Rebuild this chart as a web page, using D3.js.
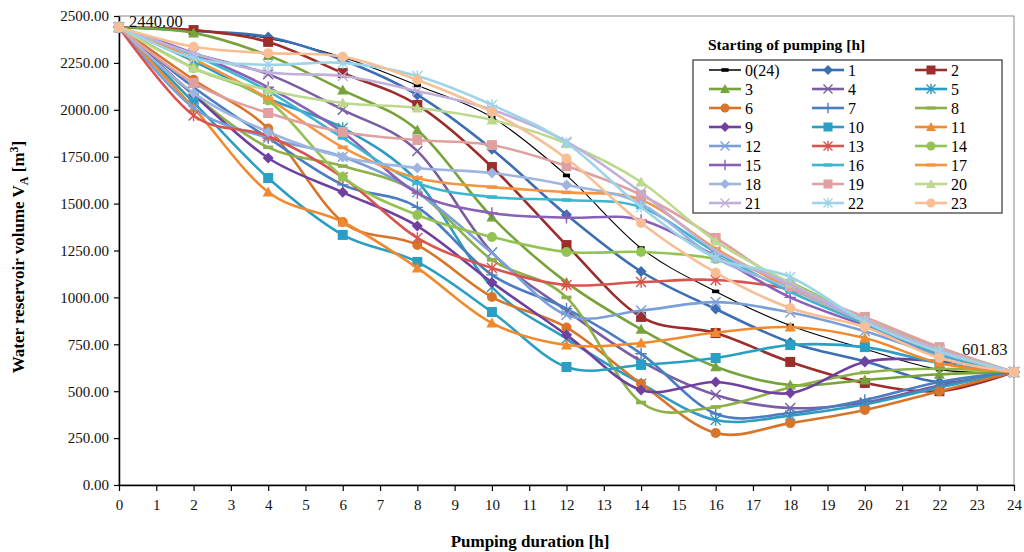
<!DOCTYPE html>
<html><head><meta charset="utf-8">
<script src="https://cdn.jsdelivr.net/npm/d3@7"></script>
<style>body{margin:0;background:#fff} text{font-family:"Liberation Serif","Times New Roman",serif}</style>
</head><body><svg id="c" width="1024" height="552"></svg>
<script>
const hours = [0,2,4,6,8,10,12,14,16,18,20,22,24];
const seriesNames = ["0(24)","1","2","3","4","5","6","7","8","9","10","11","12","13","14","15","16","17","18","19","20","21","22","23"];
const v0  = [2440,2425,2380,2280,2130,1960,1650,1263,1032,850,725,615,601.83];
const v1  = [2440,2420,2388,2265,2079,1790,1440,1138,938,760,660,549,601.83];
const v2  = [2440,2425,2362,2196,2026,1695,1279,896,810,656,544,500,601.83];
const v3  = [2440,2410,2290,2105,1892,1429,1080,830,630,533,560,590,601.83];
const v4  = [2440,2300,2190,2000,1780,1240,930,660,480,410,440,530,601.83];
const v5  = [2440,2260,2060,1903,1620,1055,780,540,346,370,430,520,601.83];
const v6  = [2440,2160,1900,1402,1279,1002,840,540,277,330,400,500,601.83];
const v7  = [2440,2120,1850,1600,1480,1120,940,700,380,384,453,549,601.83];
const v8  = [2440,2080,1800,1700,1560,1200,1000,440,416,520,600,620,601.83];
const v9  = [2440,2080,1743,1560,1380,1080,800,506,549,490,656,660,601.83];
const v10 = [2440,2040,1636,1333,1189,922,629,640,677,746,735,650,601.83];
const v11 = [2440,2010,1562,1402,1157,863,746,757,813,842,783,650,601.83];
const v12 = [2440,2010,1850,1750,1560,1237,906,930,975,920,820,690,601.83];
const v13 = [2440,1970,1860,1640,1317,1157,1066,1082,1093,1040,880,720,601.83];
const v14 = [2440,2223,2050,1642,1439,1322,1242,1242,1205,1080,880,730,601.83];
const v15 = [2440,2300,2120,1880,1556,1450,1425,1413,1220,1000,850,700,601.83];
const v16 = [2440,2290,2100,1850,1610,1535,1519,1480,1240,1030,860,700,601.83];
const v17 = [2440,2270,2060,1800,1636,1588,1560,1520,1260,1050,870,710,601.83];
const v18 = [2440,2089,1882,1748,1690,1663,1599,1500,1210,1050,870,720,601.83];
const v19 = [2440,2143,1983,1882,1839,1812,1700,1546,1317,1060,896,735,601.83];
const v20 = [2440,2223,2105,2036,2010,1946,1820,1615,1300,1077,880,720,601.83];
const v21 = [2440,2300,2200,2180,2100,2000,1830,1560,1250,1070,880,720,601.83];
const v22 = [2440,2275,2240,2250,2180,2026,1823,1482,1210,1109,870,710,601.83];
const v23 = [2440,2336,2302,2283,2159,1988,1740,1397,1132,943,842,677,601.83];
const yTicks = [0,250,500,750,1000,1250,1500,1750,2000,2250,2500];
const xTicks = [0,1,2,3,4,5,6,7,8,9,10,11,12,13,14,15,16,17,18,19,20,21,22,23,24];
const startLabel = "2440.00", endLabel = "601.83";

const seriesValues = [v0,v1,v2,v3,v4,v5,v6,v7,v8,v9,v10,v11,v12,v13,v14,v15,v16,v17,v18,v19,v20,v21,v22,v23];
const seriesColors = ["#000000","#3C6EB4","#9B2D2A","#77A33B","#7B5DA3","#2E9BC0","#D9752B","#4A7EC0","#8DB04A","#7040A0","#2A9FC4","#F08A2E",
  "#7BA0D8","#D9534F","#92C353","#8A5FB8","#3EB5D0","#F5953F","#9DB5E0","#E0A0A0","#BCD98E","#C0B0DA","#9ED4E8","#F8BF94"];
const seriesMarkers = ["bar","diamond","square","triangle","x","star","circle","plus","dash","diamond","square","triangle",
  "x","star","circle","plus","dash","dash","diamond","square","triangle","x","star","circle"];

const svg = d3.select("#c");
const x = d3.scaleLinear().domain([0,24]).range([119,1014]);
const y = d3.scaleLinear().domain([0,2500]).range([485,16]);

svg.append("rect").attr("x",119).attr("y",16).attr("width",895).attr("height",469)
  .attr("fill","none").attr("stroke","#888").attr("stroke-width",1);

const ya = svg.append("g").attr("transform","translate(119,0)")
  .call(d3.axisLeft(y).tickValues(yTicks).tickFormat(d3.format(".2f")).tickSize(5).tickSizeOuter(0).tickPadding(5));
const xa = svg.append("g").attr("transform","translate(0,485)")
  .call(d3.axisBottom(x).tickValues(xTicks).tickFormat(d3.format("d")).tickSize(6).tickSizeOuter(0).tickPadding(8));
[ya,xa].forEach(a=>{
  a.selectAll("path").attr("stroke","#000").attr("stroke-width",1.5);
  a.selectAll("line").attr("stroke","#000").attr("stroke-width",1.2);
  a.selectAll("text").attr("font-family","Liberation Serif, serif").attr("font-size",15).attr("fill","#111");
});

function marker(g, type, cx, cy, color, s){
  s = s||1;
  if(type==="diamond") g.append("path").attr("d",`M${cx},${cy-5.5*s}L${cx+5.5*s},${cy}L${cx},${cy+5.5*s}L${cx-5.5*s},${cy}Z`).attr("fill",color);
  else if(type==="square") g.append("rect").attr("x",cx-5*s).attr("y",cy-5*s).attr("width",10*s).attr("height",10*s).attr("fill",color);
  else if(type==="triangle") g.append("path").attr("d",`M${cx},${cy-5.5*s}L${cx+5.5*s},${cy+4.5*s}L${cx-5.5*s},${cy+4.5*s}Z`).attr("fill",color);
  else if(type==="circle") g.append("circle").attr("cx",cx).attr("cy",cy).attr("r",5*s).attr("fill",color);
  else if(type==="x"||type==="star"||type==="plus"){
    const d=5*s; let p="";
    if(type!=="plus") p+=`M${cx-d},${cy-d}L${cx+d},${cy+d}M${cx-d},${cy+d}L${cx+d},${cy-d}`;
    if(type!=="x") p+=`M${cx},${cy-d*1.15}L${cx},${cy+d*1.15}`;
    if(type==="plus") p+=`M${cx-d*1.15},${cy}L${cx+d*1.15},${cy}`;
    g.append("path").attr("d",p).attr("stroke",color).attr("stroke-width",1.4).attr("fill","none");
  }
  else if(type==="dash") g.append("rect").attr("x",cx-5*s).attr("y",cy-1.8*s).attr("width",10*s).attr("height",3.6*s).attr("fill",color);
  else if(type==="bar") g.append("rect").attr("x",cx-4*s).attr("y",cy-2*s).attr("width",8*s).attr("height",4*s).attr("fill",color);
}

const line = d3.line().x((d,i)=>x(hours[i])).y(d=>y(d)).curve(d3.curveCardinal.tension(0));
const plot = svg.append("g");
seriesValues.forEach((vals,k)=>{
  const g = plot.append("g");
  g.append("path").attr("d",line(vals)).attr("fill","none").attr("stroke",seriesColors[k])
    .attr("stroke-width",k===0?1.1:2.6).attr("stroke-linejoin","round");
  vals.forEach((v,i)=>marker(g,seriesMarkers[k],x(hours[i]),y(v),seriesColors[k],k===0?0.9:1));
});

svg.append("text").attr("x",129).attr("y",27).attr("font-size",16.5).attr("fill","#111").text(startLabel);
svg.append("text").attr("x",962).attr("y",355).attr("font-size",16.5).attr("fill","#111").text(endLabel);

svg.append("text").attr("x",530).attr("y",547).attr("text-anchor","middle").attr("font-weight","bold")
  .attr("font-size",17).text("Pumping duration [h]");
const yt = svg.append("text").attr("transform","translate(24,257) rotate(-90)").attr("text-anchor","middle")
  .attr("font-weight","bold").attr("font-size",17);
yt.append("tspan").text("Water reservoir volume V");
yt.append("tspan").attr("font-size",12).attr("dy",4).text("A");
yt.append("tspan").attr("dy",-4).text(" [m");
yt.append("tspan").attr("font-size",12).attr("dy",-6).text("3");
yt.append("tspan").attr("dy",6).text("]");

svg.append("text").attr("x",708).attr("y",50).attr("font-weight","bold").attr("font-size",15.5).text("Starting of pumping  [h]");
svg.append("rect").attr("x",693).attr("y",60).attr("width",309).attr("height",153).attr("fill","#fff").attr("stroke","#333").attr("stroke-width",1.2);
seriesNames.forEach((n,k)=>{
  const col=k%3, row=Math.floor(k/3);
  const lx=709+col*103, ly=70+row*19;
  const g=svg.append("g");
  g.append("line").attr("x1",lx).attr("x2",lx+32).attr("y1",ly).attr("y2",ly).attr("stroke",seriesColors[k]).attr("stroke-width",k===0?1.5:2.6);
  marker(g,seriesMarkers[k],lx+16,ly,seriesColors[k],0.9);
  g.append("text").attr("x",lx+36).attr("y",ly+5.5).attr("font-size",16).text(n);
});
</script></body></html>
